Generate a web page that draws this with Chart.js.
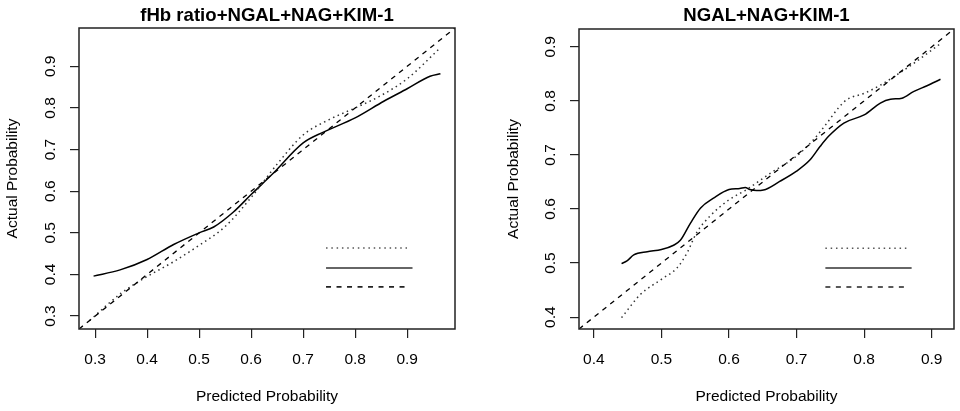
<!DOCTYPE html>
<html>
<head>
<meta charset="utf-8">
<script src="https://cdn.jsdelivr.net/npm/chart.js@4.4.1/dist/chart.umd.min.js"></script>
<style>
  body { margin: 0; background: #fff; }
  .wrap { display: flex; width: 960px; height: 411px; }
  canvas { display: block; }
</style>
</head>
<body>
<div class="wrap">
  <canvas id="chart-left" width="480" height="411"></canvas>
  <canvas id="chart-right" width="480" height="411"></canvas>
</div>
<script>
// Painel esquerdo: fHb ratio+NGAL+NAG+KIM-1
const leftTitle = 'fHb ratio+NGAL+NAG+KIM-1';
const leftRange = [0.269, 0.992];
const leftTicks = [0.3, 0.4, 0.5, 0.6, 0.7, 0.8, 0.9];
const leftApparentX = [0.29, 0.35, 0.40, 0.45, 0.50, 0.55, 0.60, 0.65, 0.70, 0.75, 0.80, 0.85, 0.90, 0.96];
const leftApparentY = [0.29, 0.355, 0.395, 0.43, 0.47, 0.515, 0.585, 0.665, 0.735, 0.772, 0.80, 0.83, 0.87, 0.94];
const leftBiasX = [0.297, 0.348, 0.40, 0.451, 0.50, 0.528, 0.566, 0.60, 0.64, 0.70, 0.739, 0.80, 0.855, 0.90, 0.944, 0.964];
const leftBiasY = [0.396, 0.411, 0.436, 0.472, 0.50, 0.514, 0.55, 0.592, 0.64, 0.716, 0.742, 0.776, 0.816, 0.846, 0.876, 0.882];

// Painel direito: NGAL+NAG+KIM-1
const rightTitle = 'NGAL+NAG+KIM-1';
const rightRange = [0.378, 0.933];
const rightTicks = [0.4, 0.5, 0.6, 0.7, 0.8, 0.9];
const rightApparentX = [0.441, 0.469, 0.50, 0.523, 0.538, 0.552, 0.572, 0.60, 0.626, 0.661, 0.70, 0.725, 0.745, 0.762, 0.774, 0.80, 0.824, 0.848, 0.873, 0.90, 0.913];
const rightApparentY = [0.399, 0.442, 0.47, 0.491, 0.519, 0.556, 0.587, 0.617, 0.636, 0.666, 0.698, 0.728, 0.759, 0.787, 0.802, 0.814, 0.829, 0.848, 0.869, 0.894, 0.906];
const rightBiasX = [0.441, 0.449, 0.459, 0.479, 0.50, 0.518, 0.528, 0.543, 0.558, 0.577, 0.60, 0.616, 0.624, 0.631, 0.641, 0.651, 0.675, 0.70, 0.72, 0.735, 0.747, 0.77, 0.80, 0.824, 0.839, 0.856, 0.873, 0.893, 0.913];
const rightBiasY = [0.499, 0.504, 0.515, 0.521, 0.525, 0.533, 0.542, 0.574, 0.602, 0.62, 0.636, 0.638, 0.64, 0.636, 0.634, 0.635, 0.651, 0.67, 0.691, 0.716, 0.734, 0.759, 0.774, 0.796, 0.803, 0.805, 0.817, 0.828, 0.84];

const axisLabelX = 'Predicted Probability';
const axisLabelY = 'Actual Probability';
const FONT = "'Liberation Sans', Arial, sans-serif";

const toPoints = (xs, ys) => xs.map((x, i) => ({ x, y: ys[i] }));

// Caixa do gráfico, título e amostras da legenda (sem texto, como no original)
const framePlugin = {
    id: 'frame',
    afterDatasetsDraw(chart, args, opts) {
        const { ctx, chartArea: a } = chart;
        const w = a.right - a.left, h = a.bottom - a.top;
        ctx.save();
        ctx.strokeStyle = '#222';
        ctx.lineWidth = 1.5;
        ctx.strokeRect(a.left, a.top, w, h);

        ctx.fillStyle = '#000';
        ctx.font = `bold 18.6px ${FONT}`;
        ctx.textAlign = 'center';
        ctx.textBaseline = 'middle';
        ctx.fillText(opts.title, (a.left + a.right) / 2, 16);

        const samples = [
            { y: 0.731, end: 0.875, dash: [1.5, 3.8], color: '#555', width: 1.6 },
            { y: 0.797, end: 0.887, dash: [], color: '#666', width: 2 },
            { y: 0.860, end: 0.870, dash: [5, 5.5], color: '#222', width: 1.6 }
        ];
        samples.forEach(s => {
            ctx.beginPath();
            ctx.setLineDash(s.dash);
            ctx.strokeStyle = s.color;
            ctx.lineWidth = s.width;
            ctx.moveTo(a.left + 0.657 * w, a.top + s.y * h);
            ctx.lineTo(a.left + s.end * w, a.top + s.y * h);
            ctx.stroke();
        });
        ctx.restore();
    }
};

function makeChart(id, opts) {
    const ctx = document.getElementById(id).getContext('2d');
    const [min, max] = opts.range;
    const tickFont = { family: FONT, size: 15.5 };
    return new Chart(ctx, {
        type: 'scatter',
        data: {
            datasets: [
                {
                    data: toPoints(opts.range, opts.range),
                    borderColor: '#000', borderWidth: 1.3, borderDash: [5, 5]
                },
                {
                    data: toPoints(opts.apparentX, opts.apparentY),
                    borderColor: '#333', borderWidth: 1.5, borderDash: [1.5, 3.5]
                },
                {
                    data: toPoints(opts.biasX, opts.biasY),
                    borderColor: '#000', borderWidth: 1.5
                }
            ].map(d => ({ ...d, showLine: true, pointRadius: 0, cubicInterpolationMode: 'monotone' }))
        },
        options: {
            responsive: false,
            animation: false,
            layout: { padding: { top: opts.top, right: opts.right, left: 0, bottom: 0 } },
            plugins: {
                legend: { display: false },
                tooltip: { enabled: false },
                frame: { title: opts.title }
            },
            scales: {
                x: {
                    type: 'linear', min, max,
                    afterBuildTicks: s => { s.ticks = opts.ticks.map(v => ({ value: v })); },
                    afterFit: s => { s.height = 411 - opts.bottom; },
                    grid: { drawOnChartArea: false, tickLength: 9, color: '#222', lineWidth: 1.2 },
                    border: { display: false },
                    ticks: { color: '#000', font: tickFont, padding: 12.7, maxRotation: 0,
                             callback: v => v.toFixed(1) },
                    title: { display: true, text: axisLabelX, color: '#000', font: tickFont,
                             padding: { top: 0, bottom: 4.7 } }
                },
                y: {
                    type: 'linear', min, max,
                    afterBuildTicks: s => { s.ticks = opts.ticks.map(v => ({ value: v })); },
                    afterFit: s => { s.width = opts.left; },
                    grid: { drawOnChartArea: false, tickLength: 9, color: '#222', lineWidth: 1.2 },
                    border: { display: false },
                    ticks: { color: '#000', font: tickFont, padding: 8.5, minRotation: 90, maxRotation: 90,
                             crossAlign: 'center', callback: v => v.toFixed(1) },
                    title: { display: true, text: axisLabelY, color: '#000', font: tickFont,
                             padding: { top: opts.yTitlePad, bottom: 0 } }
                }
            }
        },
        plugins: [framePlugin]
    });
}

makeChart('chart-left', {
    title: leftTitle, range: leftRange, ticks: leftTicks,
    apparentX: leftApparentX, apparentY: leftApparentY,
    biasX: leftBiasX, biasY: leftBiasY,
    left: 79, right: 25, top: 28, bottom: 329, yTitlePad: 3.7
});

makeChart('chart-right', {
    title: rightTitle, range: rightRange, ticks: rightTicks,
    apparentX: rightApparentX, apparentY: rightApparentY,
    biasX: rightBiasX, biasY: rightBiasY,
    left: 99, right: 6, top: 29, bottom: 329, yTitlePad: 24
});
</script>
</body>
</html>
